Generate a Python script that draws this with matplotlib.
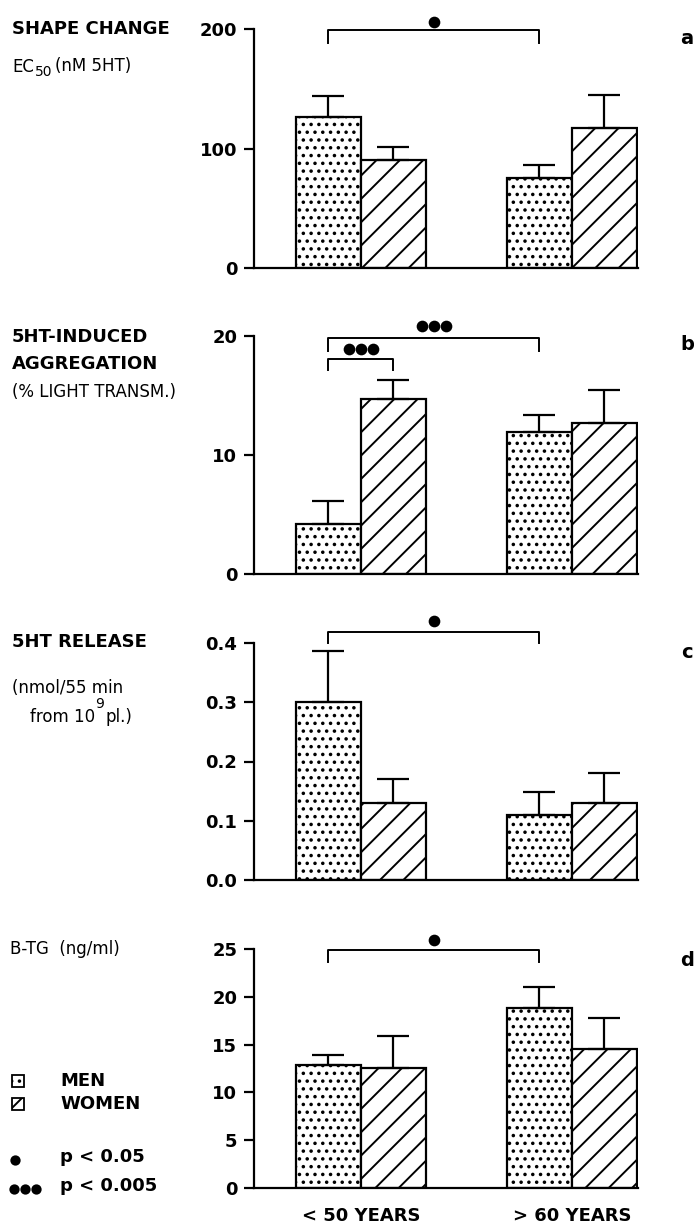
import matplotlib
matplotlib.use('Agg')
import matplotlib.pyplot as plt
from matplotlib.patches import Rectangle

# ---- data ----
groups = ['< 50 YEARS', '> 60 YEARS']
series = ['MEN', 'WOMEN']

men_a = [126, 75]
men_a_err = [18, 11]
women_a = [90, 117]
women_a_err = [11, 28]

men_b = [4.2, 11.9]
men_b_err = [1.9, 1.5]
women_b = [14.7, 12.7]
women_b_err = [1.6, 2.8]

men_c = [0.30, 0.11]
men_c_err = [0.087, 0.038]
women_c = [0.13, 0.13]
women_c_err = [0.04, 0.05]

men_d = [12.9, 18.8]
men_d_err = [1.0, 2.2]
women_d = [12.6, 14.5]
women_d_err = [3.3, 3.3]

ticks_a = [0, 100, 200]
ticks_b = [0, 10, 20]
ticks_c = [0.0, 0.1, 0.2, 0.3, 0.4]
ticks_d = [0, 5, 10, 15, 20, 25]

W, H = 694, 1227
DPI = 140          # larger dpi -> wider hatch spacing, sizes scaled back below
K = 100 / DPI


def pt(v):
    return v * K


plt.rcParams['font.family'] = ['DejaVu Sans']
plt.rcParams['hatch.linewidth'] = pt(1.4)

fig = plt.figure(figsize=(W / DPI, H / DPI), dpi=DPI)
renderer = fig.canvas.get_renderer()


def fx(x):
    return x / W


def fy(y):
    return 1 - y / H


def txt(x, y, s, size, bold=False, **kw):
    t = fig.text(fx(x), fy(y), s, fontsize=pt(size), fontweight='bold' if bold else 'normal',
                 va='center', **kw)
    return t


def right_of(t):
    bb = t.get_window_extent(renderer)
    return bb.x1 * W / fig.bbox.width


def add_panel(ytop, ybot, men, men_err, women, women_err, ticks, fmt, letter, ly):
    ax = fig.add_axes([fx(254), fy(ybot), fx(638) - fx(254), (ybot - ytop) / H])
    w = 0.308
    xs = [0, 1]
    xm = [x - w / 2 for x in xs]
    xw = [x + w / 2 for x in xs]
    ax.bar(xm, men, width=w, color='white', edgecolor='black', linewidth=pt(1.6), hatch='...')
    ax.bar(xw, women, width=w, color='white', edgecolor='black', linewidth=pt(1.6), hatch='//')
    for xx, v, e in ((xm, men, men_err), (xw, women, women_err)):
        ax.errorbar(xx, v, yerr=[[0, 0], e], fmt='none', ecolor='black',
                    elinewidth=pt(1.6), capsize=pt(11.5), capthick=pt(1.6))
    ax.set_xlim(-0.507, 1.313)
    ax.set_ylim(ticks[0], ticks[-1])
    ax.set_yticks(ticks)
    ax.set_yticklabels([fmt.format(t) for t in ticks], fontsize=pt(13), fontweight='bold')
    ax.set_xticks([])
    for s in ('top', 'right'):
        ax.spines[s].set_visible(False)
    ax.spines['left'].set_linewidth(pt(1.6))
    ax.spines['bottom'].set_linewidth(pt(1.6))
    ax.tick_params(axis='y', length=pt(7), width=pt(1.6), pad=pt(5))
    txt(687, ly, letter, 14, bold=True, ha='center')
    return ax, xm, xw


def bracket(ax, x1, x2, y, leg, ndots, dy):
    ax.plot([x1, x1, x2, x2], [y - leg, y, y, y - leg], color='black', lw=pt(1.4), clip_on=False)
    xc = (x1 + x2) / 2
    sp = 0.056
    dx = [xc + (k - (ndots - 1) / 2) * sp for k in range(ndots)]
    ax.plot(dx, [y + dy] * ndots, 'o', color='black', ms=pt(7), clip_on=False)


# panel a
ax, xm, xw = add_panel(29, 268, men_a, men_a_err, women_a, women_a_err, ticks_a, '{:d}', 'a', 39)
bracket(ax, xm[0], xm[1], 199, 10.5, 1, 6.5)

# panel b
ax, xm, xw = add_panel(336, 574, men_b, men_b_err, women_b, women_b_err, ticks_b, '{:d}', 'b', 345)
bracket(ax, xm[0], xm[1], 19.86, 1.15, 3, 0.95)
bracket(ax, xm[0], xw[0], 18.07, 0.95, 3, 0.85)

# panel c
ax, xm, xw = add_panel(643, 880, men_c, men_c_err, women_c, women_c_err, ticks_c, '{:.1f}', 'c', 652)
bracket(ax, xm[0], xm[1], 0.4185, 0.0185, 1, 0.019)

# panel d
ax, xm, xw = add_panel(949, 1188, men_d, men_d_err, women_d, women_d_err, ticks_d, '{:d}', 'd', 960)
bracket(ax, xm[0], xm[1], 24.9, 1.3, 1, 1.05)
for x, g in zip([0, 1], groups):
    ax.text(x, -0.118, g, transform=ax.get_xaxis_transform(), ha='center', va='center',
            fontsize=pt(13), fontweight='bold')

# left side labels
txt(12, 29, 'SHAPE CHANGE', 13, bold=True)
t = txt(12, 67, 'EC', 12)
t = txt(right_of(t) + 1, 72, '50', 10)
txt(right_of(t) + 3, 66, '(nM 5HT)', 12)

txt(12, 337, '5HT-INDUCED', 13, bold=True)
txt(12, 364, 'AGGREGATION', 13, bold=True)
txt(12, 392, '(% LIGHT TRANSM.)', 12)

txt(12, 642, '5HT RELEASE', 13, bold=True)
txt(12, 688, '(nmol/55 min', 12)
t = txt(30, 717, 'from 10', 12)
t2 = txt(right_of(t), 704, '9', 10)
txt(right_of(t2) + 2, 717, 'pl.)', 12)

txt(10, 949, 'B-TG  (ng/ml)', 12)

# legend
fig.patches.append(Rectangle((fx(12), fy(1087)), 12 / W, 12 / H, transform=fig.transFigure,
                             facecolor='white', edgecolor='black', lw=pt(1.3), hatch='...'))
fig.patches.append(Rectangle((fx(12), fy(1110)), 12 / W, 12 / H, transform=fig.transFigure,
                             facecolor='white', edgecolor='black', lw=pt(1.3), hatch='//'))
txt(60, 1081, series[0], 13, bold=True)
txt(60, 1104, series[1], 13, bold=True)
fig.lines.append(plt.Line2D([fx(15)], [fy(1160)], marker='o', color='black', ms=pt(6),
                            transform=fig.transFigure))
for k in range(3):
    fig.lines.append(plt.Line2D([fx(14 + 11 * k)], [fy(1189)], marker='o', color='black',
                                ms=pt(6), transform=fig.transFigure))
txt(60, 1157, 'p < 0.05', 13, bold=True)
txt(60, 1186, 'p < 0.005', 13, bold=True)

fig.savefig('out.png', dpi=DPI)
